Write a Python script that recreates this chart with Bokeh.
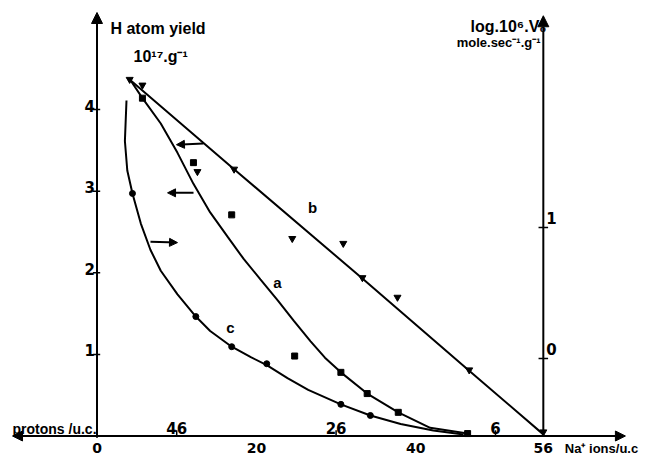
from bokeh.plotting import figure
from bokeh.models import Range1d, Arrow, NormalHead, Label
from bokeh.core.properties import value
from bokeh.embed import file_html
from bokeh.resources import INLINE

# ---------------- data ----------------
# x: Na+ ions per unit cell ; left axis: H atom yield (10^17 g^-1)
# right axis: log(10^6 V0) (mole sec^-1 g^-1)

# curve a : squares (left axis)
a_na = [5.7, 12.1, 16.9, 24.8, 30.6, 33.9, 37.8, 46.5]
a_h = [4.14, 3.35, 2.71, 0.98, 0.78, 0.52, 0.29, 0.03]
a_line_na = [4.2, 5.7, 8.0, 10.1, 12.1, 14.2, 16.4, 18.4, 20.5, 22.7, 24.7, 26.8, 28.6,
             30.6, 33.9, 37.8, 41.8, 46.5]
a_line_h = [4.36, 4.14, 3.83, 3.47, 3.09, 2.74, 2.44, 2.17, 1.92, 1.66, 1.41, 1.16, 0.96,
            0.78, 0.52, 0.29, 0.10, 0.03]

# curve b : inverted triangles (left axis)
b_na = [4.1, 5.7, 12.6, 17.2, 24.5, 30.9, 33.3, 37.7, 46.7, 56.0]
b_h = [4.37, 4.30, 3.24, 3.27, 2.42, 2.36, 1.94, 1.70, 0.81, 0.05]
b_line_na = [4.2, 17.2, 33.3, 46.7, 56.0]
b_line_h = [4.36, 3.27, 1.93, 0.80, 0.02]

# curve c : circles (right axis)
c_na = [4.45, 12.4, 16.9, 21.3, 30.6, 34.3]
c_v = [1.26, 0.32, 0.09, -0.04, -0.35, -0.435]
c_line_na = [3.7, 3.5, 3.8, 4.45, 5.5, 6.7, 8.0, 10.1, 12.4, 14.2, 16.9, 19.3, 21.3,
             23.9, 26.5, 30.6, 34.3, 38.1, 42.2, 46.0]
c_line_v = [1.97, 1.66, 1.435, 1.26, 1.03, 0.83, 0.67, 0.49, 0.32, 0.21, 0.09, 0.01, -0.05,
            -0.15, -0.24, -0.35, -0.435, -0.50, -0.55, -0.58]

# axes ticks
left_ticks = [1, 2, 3, 4]
right_ticks = [0, 1]
na_ticks = [0, 20, 40, 56]
proton_ticks = [46, 26, 6]
total_sites = 56

# ---------------- figure ----------------
X0, X1 = -12.108, 69.197
Y0, Y1 = -0.2512, 5.337
V0, V1 = -0.7481, 2.7328

p = figure(width=648, height=456, output_backend="svg", toolbar_location=None,
           x_range=Range1d(X0, X1), y_range=Range1d(Y0, Y1),
           x_axis_location=None, y_axis_location=None, min_border=0)
p.extra_y_ranges = {"v": Range1d(V0, V1)}
p.grid.visible = False
p.outline_line_color = None
p.background_fill_color = "white"

BLK = "black"
WORD = "Liberation Sans"
DIG = "DejaVu Sans"

# axes lines with arrow heads
p.add_layout(Arrow(x_start=0, y_start=-0.02, x_end=0, y_end=5.19, line_width=2, line_color=BLK,
                   end=NormalHead(size=11, fill_color=BLK, line_color=BLK), start=None))
p.add_layout(Arrow(x_start=total_sites, y_start=0, x_end=total_sites, y_end=5.15, line_width=2, line_color=BLK,
                   end=NormalHead(size=11, fill_color=BLK, line_color=BLK), start=None))
p.add_layout(Arrow(x_start=-10.6, y_start=0, x_end=66.3, y_end=0, line_width=2, line_color=BLK,
                   end=NormalHead(size=10, fill_color=BLK, line_color=BLK),
                   start=NormalHead(size=10, fill_color=BLK, line_color=BLK)))

# ticks
p.segment(x0=[-0.5] * len(left_ticks), x1=[0.4] * len(left_ticks), y0=left_ticks, y1=left_ticks,
          line_color=BLK, line_width=1.5)
p.segment(x0=[total_sites - 0.6] * len(right_ticks), x1=[total_sites + 0.6] * len(right_ticks),
          y0=right_ticks, y1=right_ticks, line_color=BLK, line_width=1.5, y_range_name="v")
prot_x = [total_sites - v for v in proton_ticks]
p.segment(x0=prot_x, x1=prot_x, y0=[0] * len(prot_x), y1=[0.07] * len(prot_x), line_color=BLK, line_width=1.5)

# tick labels
p.text(x=[0] * len(left_ticks), y=left_ticks, text=[str(t) for t in left_ticks],
       text_align="right", text_baseline="bottom", x_offset=-2, y_offset=2,
       text_font=value(DIG), text_font_style="bold", text_font_size="15px", text_color=BLK)
p.text(x=[total_sites] * len(right_ticks), y=right_ticks, text=[str(t) for t in right_ticks],
       text_align="left", text_baseline="bottom", x_offset=3, y_offset=-3,
       text_font=value(DIG), text_font_style="bold", text_font_size="15px", text_color=BLK, y_range_name="v")
p.text(x=na_ticks, y=[0] * len(na_ticks), text=[str(t) for t in na_ticks],
       text_align="center", text_baseline="middle", y_offset=12,
       text_font=value(DIG), text_font_style="bold", text_font_size="14px", text_color=BLK)
p.text(x=prot_x, y=[0] * len(prot_x), text=[str(t) for t in proton_ticks],
       text_align="center", text_baseline="bottom", y_offset=-2,
       text_font=value(DIG), text_font_style="bold", text_font_size="15px", text_color=BLK)

# curves
p.line(a_line_na, a_line_h, line_color=BLK, line_width=2)
p.line(b_line_na, b_line_h, line_color=BLK, line_width=2)
p.line(c_line_na, c_line_v, line_color=BLK, line_width=2, y_range_name="v")

p.scatter(a_na, a_h, marker="square", size=6, color=BLK)
p.scatter(b_na, b_h, marker="inverted_triangle", size=7, color=BLK)
p.scatter(c_na, c_v, marker="circle", size=6, color=BLK, y_range_name="v")

# curve pointer arrows (which axis each curve belongs to)
for xs, ys, xe, ye in [(13.36, 3.585, 9.97, 3.57), (12.11, 2.98, 8.85, 2.98), (6.71, 2.38, 10.10, 2.37)]:
    p.add_layout(Arrow(x_start=xs, y_start=ys, x_end=xe, y_end=ye, line_width=2, line_color=BLK,
                       end=NormalHead(size=8, fill_color=BLK, line_color=BLK), start=None))

# text labels
def lab(x, y, t, size, align="left", base="alphabetic", font=WORD):
    p.add_layout(Label(x=x, y=y, text=t, text_align=align, text_baseline=base,
                       text_font=font, text_font_style="bold", text_font_size=size, text_color=BLK))

lab(27.04, 2.80, "b", "15px", "center", "middle")
lab(22.65, 1.88, "a", "15px", "center", "middle")
lab(16.75, 1.33, "c", "15px", "center", "middle")
lab(1.69, 4.994, "H atom yield", "16px")
lab(4.58, 4.65, "10¹⁷.g⁻¹", "16px")
lab(56.4, 5.02, "log.10⁶.V₀", "16px", "right")
lab(55.65, 4.82, "mole.sec⁻¹.g⁻¹", "13px", "right")
lab(-10.6, 0.09, "protons /u.c.", "14px")
lab(58.7, -0.15, "Na⁺ ions/u.c", "13px")

open("out.html", "w").write(file_html(p, INLINE))
